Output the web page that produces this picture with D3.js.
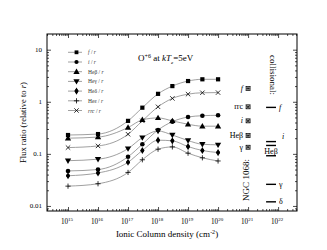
<!DOCTYPE html>
<html>
<head>
<meta charset="utf-8">
<script src="https://cdn.jsdelivr.net/npm/d3@7"></script>
<style>
  body { margin: 0; background: #fff; }
  svg { font-family: "Liberation Serif", "DejaVu Serif", serif; }
  .frame { fill: none; stroke: #000; stroke-width: 1; }
  .curve { fill: none; stroke: #888; stroke-width: 0.8; }
</style>
</head>
<body>
<svg id="chart" width="327" height="250"></svg>
<script>
// column densities (cm^-2) where the model was run
var columns = [1e15, 1e16, 1e17, 3e17, 1e18, 3e18, 1e19, 3e19, 1e20];

// flux ratios relative to r
var fRatio   = [0.23, 0.24, 0.43, 0.77, 1.42, 2.0, 2.5, 2.7, 2.7];
var iRatio   = [0.047, 0.050, 0.088, 0.153, 0.288, 0.415, 0.51, 0.54, 0.55];
var hebRatio = [0.20, 0.21, 0.32, 0.45, 0.49, 0.43, 0.37, 0.34, 0.34];
var hegRatio = [0.074, 0.079, 0.126, 0.205, 0.275, 0.23, 0.18, 0.153, 0.149];
var hedRatio = [0.038, 0.043, 0.069, 0.116, 0.183, 0.178, 0.138, 0.116, 0.106];
var heeRatio = [0.024, 0.0267, 0.044, 0.077, 0.123, 0.136, 0.103, 0.084, 0.073];
var rrcRatio = [0.132, 0.142, 0.238, 0.43, 0.80, 1.16, 1.40, 1.49, 1.5];

var seriesNames = ["f / r", "i / r", "Heβ / r", "Heγ / r", "Heδ / r", "Heε / r", "rrc / r"];
var seriesItalic = ["f", "i", null, null, null, null, "rrc"];
var seriesSymbols = ["square", "circle", "up", "down", "diamond", "plus", "cross"];

// observed NGC 1068 ratios (plotted at 1e21)
var obsLabels = ["f", "rrc", "i", "Heβ", "γ"];
var obsValues = [1.8, 0.80, 0.43, 0.224, 0.134];
var obsColumn = 1e21;

// collisional ratios (bars near 5e21)
var collLabels = ["f", "i", "", "Heβ", "γ", "δ"];
var collValues = [0.78, 0.172, 0.145, 0.092, 0.026, 0.012];

var yTickValues = [0.01, 0.1, 1, 10];
var yTickLabels = ["0.01", "0.1", "1", "10"];
var xTickExps = [15, 16, 17, 18, 19, 20, 21, 22];

var allSeries = [fRatio, iRatio, hebRatio, hegRatio, hedRatio, heeRatio, rrcRatio];

var svg = d3.select("#chart");
var pLeft = 47, pRight = 297, pTop = 34, pBottom = 211;

var x = d3.scaleLog().domain([Math.pow(10, 14.3), Math.pow(10, 22.63)]).range([pLeft, pRight]);
var y = d3.scaleLog().domain([0.008, 20]).range([pBottom, pTop]);

// minor ticks for log axes
function minorTicks(lo, hi) {
  var out = [];
  for (var e = Math.floor(Math.log10(lo)); e <= Math.ceil(Math.log10(hi)); e++) {
    for (var m = 2; m <= 9; m++) {
      var v = m * Math.pow(10, e);
      if (v > lo && v < hi) out.push(v);
    }
  }
  return out;
}
var xMajor = xTickExps.map(function(e) { return Math.pow(10, e); });
var xMinor = minorTicks(x.domain()[0], x.domain()[1]);
var yMinor = minorTicks(y.domain()[0], y.domain()[1]);

function drawTicks(axisFn, scale, major, minor, pos) {
  var g = svg.append("g").attr("transform", pos);
  g.append("g").call(axisFn(scale).tickValues(minor).tickSize(-2).tickFormat(""));
  g.append("g").call(axisFn(scale).tickValues(major).tickSize(-4).tickFormat(""));
  g.selectAll(".domain").remove();
  g.selectAll("line").attr("stroke", "#000").attr("stroke-width", 0.7);
}
drawTicks(d3.axisBottom, x, xMajor, xMinor, "translate(0," + pBottom + ")");
drawTicks(d3.axisTop, x, xMajor, xMinor, "translate(0," + pTop + ")");
drawTicks(d3.axisLeft, y, yTickValues, yMinor, "translate(" + pLeft + ",0)");
drawTicks(d3.axisRight, y, yTickValues, yMinor, "translate(" + pRight + ",0)");

svg.append("rect").attr("class", "frame")
  .attr("x", pLeft).attr("y", pTop).attr("width", pRight - pLeft).attr("height", pBottom - pTop);

// tick labels
svg.append("g").selectAll("text").data(xTickExps).enter().append("text")
  .attr("x", function(d) { return x(Math.pow(10, d)) - 1; })
  .attr("y", 223.5)
  .attr("text-anchor", "middle")
  .attr("font-size", 7.2)
  .each(function(d) {
    var t = d3.select(this);
    t.append("tspan").text("10");
    t.append("tspan").attr("dy", -3).attr("font-size", 5).text(d);
  });

svg.append("g").selectAll("text").data(yTickValues).enter().append("text")
  .attr("x", 42)
  .attr("y", function(d) { return y(d) + 2.3; })
  .attr("text-anchor", "end")
  .attr("font-size", 7)
  .text(function(d, i) { return yTickLabels[i]; });

// axis titles
var xt = svg.append("text").attr("x", 167).attr("y", 237).attr("text-anchor", "middle").attr("font-size", 9);
xt.append("tspan").text("Ionic Column density (cm");
xt.append("tspan").attr("dy", -3).attr("font-size", 6).text("-2");
xt.append("tspan").attr("dy", 3).text(")");

var yt = svg.append("text").attr("transform", "translate(26," + ((pTop + pBottom) / 2) + ") rotate(-90)")
  .attr("text-anchor", "middle").attr("font-size", 8.5);
yt.append("tspan").text("Flux ratio (relative to ");
yt.append("tspan").attr("font-style", "italic").text("r");
yt.append("tspan").text(")");

// symbols
function drawSymbol(g, type, cx, cy, s) {
  s = s || 2.1;
  if (type === "square") {
    g.append("rect").attr("x", cx - s).attr("y", cy - s).attr("width", 2 * s).attr("height", 2 * s).attr("fill", "#000");
  } else if (type === "circle") {
    g.append("circle").attr("cx", cx).attr("cy", cy).attr("r", s + 0.2).attr("fill", "#000");
  } else if (type === "up") {
    g.append("path").attr("d", d3.symbol(d3.symbolTriangle, 17)()).attr("transform", "translate(" + cx + "," + (cy + 0.4) + ")").attr("fill", "#000");
  } else if (type === "down") {
    g.append("path").attr("d", d3.symbol(d3.symbolTriangle, 17)()).attr("transform", "translate(" + cx + "," + (cy - 0.4) + ") rotate(180)").attr("fill", "#000");
  } else if (type === "diamond") {
    g.append("path").attr("d", d3.symbol(d3.symbolDiamond, 15)()).attr("transform", "translate(" + cx + "," + cy + ")").attr("fill", "#000");
    g.append("circle").attr("cx", cx).attr("cy", cy).attr("r", 1.8).attr("fill", "#000");
  } else if (type === "plus") {
    g.append("path").attr("d", "M" + (cx - 2.6) + "," + cy + "h5.2M" + cx + "," + (cy - 2.6) + "v5.2").attr("stroke", "#000").attr("stroke-width", 0.8);
  } else if (type === "cross") {
    g.append("path").attr("d", "M" + (cx - 2.2) + "," + (cy - 2.2) + "l4.4,4.4M" + (cx - 2.2) + "," + (cy + 2.2) + "l4.4,-4.4").attr("stroke", "#000").attr("stroke-width", 0.8);
  } else if (type === "boxx") {
    g.append("rect").attr("x", cx - 2).attr("y", cy - 2).attr("width", 4).attr("height", 4).attr("fill", "none").attr("stroke", "#000").attr("stroke-width", 0.7);
    g.append("path").attr("d", "M" + (cx - 2) + "," + (cy - 2) + "l4,4M" + (cx - 2) + "," + (cy + 2) + "l4,-4M" + (cx - 2) + "," + cy + "h4M" + cx + "," + (cy - 2) + "v4").attr("stroke", "#000").attr("stroke-width", 0.6);
  }
}

var line = d3.line()
  .x(function(d, i) { return x(columns[i]); })
  .y(function(d) { return y(d); })
  .curve(d3.curveMonotoneX);

var plot = svg.append("g");
allSeries.forEach(function(s, k) {
  plot.append("path").attr("class", "curve").attr("d", line(s));
});
allSeries.forEach(function(s, k) {
  s.forEach(function(v, i) {
    drawSymbol(plot, seriesSymbols[k], x(columns[i]), y(v));
  });
});

// legend
var legend = svg.append("g");
seriesNames.forEach(function(name, k) {
  var ly = 52.3 + k * 9.7;
  legend.append("line").attr("x1", 68).attr("x2", 82).attr("y1", ly).attr("y2", ly).attr("stroke", "#888").attr("stroke-width", 0.8);
  drawSymbol(legend, seriesSymbols[k], 76.5, ly, 1.9);
  var t = legend.append("text").attr("x", 88).attr("y", ly + 2).attr("font-size", 5.5).attr("fill", "#333");
  var parts = name.split(" / ");
  if (seriesItalic[k]) {
    t.append("tspan").attr("font-style", "italic").text(parts[0]);
  } else {
    t.append("tspan").text(parts[0]);
  }
  t.append("tspan").text(" / ");
  t.append("tspan").attr("font-style", "italic").text("r");
});

// title
var title = svg.append("text").attr("x", 138).attr("y", 61).attr("font-size", 9);
title.append("tspan").text("O");
title.append("tspan").attr("dy", -3).attr("font-size", 6).text("+6");
title.append("tspan").attr("dy", 3).text(" at ");
title.append("tspan").attr("font-style", "italic").text("kT");
title.append("tspan").attr("dy", 3).attr("font-size", 5).attr("font-style", "italic").text("e");
title.append("tspan").attr("dy", -3).text("=5eV");

// NGC 1068 observed values
var obs = svg.append("g");
obsValues.forEach(function(v, i) {
  var cx = x(obsColumn), cy = y(v);
  drawSymbol(obs, "boxx", cx, cy);
  var t = obs.append("text").attr("x", cx - 5).attr("y", cy + 2.5).attr("text-anchor", "end").attr("font-size", 8)
    .text(obsLabels[i]);
  if (obsLabels[i] === "f" || obsLabels[i] === "i") t.attr("font-style", "italic");
});
svg.append("text").attr("transform", "translate(" + (x(obsColumn) + 0.5) + ",180) rotate(-90)")
  .attr("text-anchor", "middle").attr("font-size", 9).text("NGC 1068:");

// collisional values
var coll = svg.append("g");
var barX1 = x(Math.pow(10, 21.6)), barX2 = x(Math.pow(10, 21.93));
collValues.forEach(function(v, i) {
  var cy = y(v);
  coll.append("line").attr("x1", barX1).attr("x2", barX2).attr("y1", cy).attr("y2", cy)
    .attr("stroke", "#000").attr("stroke-width", 1.4);
  var lab = collLabels[i];
  if (!lab) return;
  var t = coll.append("text").attr("font-size", 8).text(lab);
  if (lab === "Heβ") {
    t.attr("x", (barX1 + barX2) / 2).attr("y", cy - 1.5).attr("text-anchor", "middle");
  } else if (lab === "i") {
    t.attr("x", barX2 + 6).attr("y", cy - 3).attr("font-style", "italic");
  } else {
    t.attr("x", barX2 + 3).attr("y", cy + 2.5);
    if (lab === "f") t.attr("font-style", "italic");
  }
});
svg.append("text").attr("transform", "translate(270,75) rotate(90)")
  .attr("text-anchor", "middle").attr("font-size", 9).text("collisional:");
</script>
</body>
</html>
